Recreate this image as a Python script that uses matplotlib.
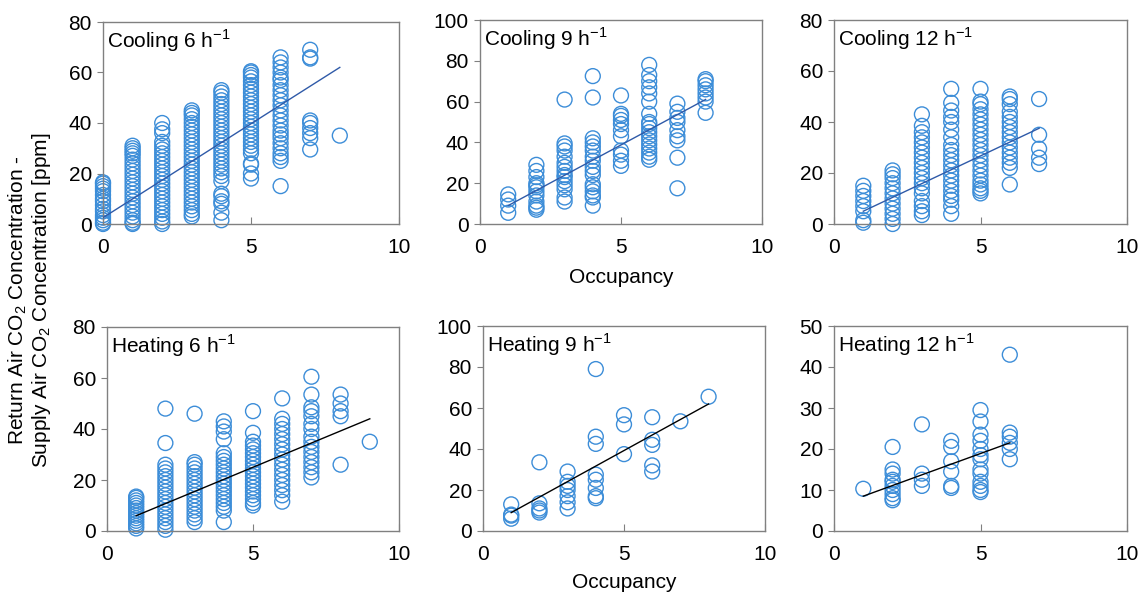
import numpy as np
import matplotlib.pyplot as plt

plt.rcParams['font.family'] = ['Liberation Sans', 'DejaVu Sans']
plt.rcParams['mathtext.fontset'] = 'custom'
plt.rcParams['mathtext.rm'] = 'Liberation Sans'

# occupancy -> list of concentration differences [ppm]
cool6 = {
    0: [0, 0.5, 1.5, 2.5, 3.5, 5, 6, 7.5, 9, 10, 11.5, 13, 14, 15, 16, 16.5],
    1: [0, 0.5, 1.5, 3, 4.5, 6, 7.5, 9, 10.5, 12, 13.5, 15, 16.5, 18, 19.5, 21, 22.5,
        24, 25.5, 27, 28, 29, 30, 31],
    2: [0, 1, 2.5, 4, 5.5, 7, 8.5, 10, 11.5, 13, 14.5, 16, 17.5, 19, 20.5, 22, 23.5,
        25, 26.5, 28, 29.5, 31, 32.5, 36, 37.5, 40],
    3: [3, 4, 5.5, 7, 8.5, 10, 11.5, 13, 14.5, 16, 17.5, 19, 20.5, 22, 23.5, 25, 26.5,
        28, 29.5, 31, 32.5, 34, 35.5, 37, 38.5, 40, 41.5, 43, 44, 45],
    4: [1.5, 4.5, 8, 9, 11, 12, 17, 19, 20.5, 22, 23.5, 25, 26.5, 28, 29.5, 31, 32.5,
        34, 35.5, 37, 38.5, 40, 41.5, 43, 44.5, 46, 47.5, 49, 50.5, 52, 53],
    5: [18, 20, 23.5, 24, 28, 29.5, 31, 32.5, 34, 35.5, 37, 38.5, 40, 41.5, 43, 44.5,
        46, 47.5, 49, 50.5, 52, 53.5, 55, 56.5, 58, 59, 60, 60.5],
    6: [15, 25, 26.5, 28, 30, 32, 34, 35.5, 37, 39, 41, 43, 45, 47, 49, 51, 53, 55,
        57, 58, 60, 62, 64, 66],
    7: [29.5, 34, 36, 38, 40, 41, 65.5, 66, 69],
    8: [35],
}
cool9 = {
    1: [5.5, 9, 12, 14.5],
    2: [7, 8, 9, 11, 14, 16, 18, 19, 20, 23, 26, 29],
    3: [11, 13, 17, 19, 21, 23, 24, 26, 28, 30, 33, 36, 38, 39.5, 61],
    4: [9, 13, 14, 16, 18, 19.5, 24, 26, 28, 31, 33, 36, 38, 40, 42, 62, 72.5],
    5: [28.5, 31, 34, 36, 43, 46, 49, 51, 53, 54, 63],
    6: [31.5, 33, 35, 37, 39, 41, 43, 45, 47, 49, 50, 54, 60, 64, 67, 70, 73, 78],
    7: [17.5, 32.5, 41, 43, 46, 50, 52, 55, 59],
    8: [54.5, 60, 62, 64, 66, 68, 70, 71],
}
cool12 = {
    1: [0.5, 1.5, 5, 7, 9, 11, 13, 15],
    2: [0, 2, 4, 6, 8, 10, 12, 14, 16, 18, 19.5, 21],
    3: [3.5, 5, 7, 9, 12, 14, 16, 18, 20, 22, 24, 26, 28, 30, 32, 34, 36, 38.5, 43],
    4: [4, 7, 9.5, 11, 13, 15, 17, 19, 21, 23, 25, 27, 29, 31, 34, 37, 40, 42, 44.5,
        47.5, 53],
    5: [12, 13, 14, 15.5, 17, 19, 21, 23, 25, 27, 29, 31, 33, 35, 37, 39, 41, 43, 45,
        47, 48, 53],
    6: [15.5, 22, 24, 26, 28, 30, 32, 34, 36, 38, 40, 42, 44, 47, 49, 50],
    7: [23.5, 26, 29.5, 35, 49],
}
heat6 = {
    1: [1, 2, 3, 4, 5, 6, 7, 8, 9, 10, 11, 12, 13, 13.5],
    2: [0.5, 2, 3.5, 5, 6.5, 8, 9.5, 11, 12.5, 14, 15.5, 17, 18.5, 20, 21.5, 23, 24.5,
        26, 34.5, 48],
    3: [3.5, 5, 6.5, 8, 9.5, 11, 12.5, 14, 15.5, 17, 18.5, 20, 21.5, 23, 24.5, 26, 27,
        46],
    4: [3.5, 8, 9.5, 11, 12.5, 14, 15.5, 17, 18.5, 20, 21.5, 23, 24.5, 26, 27.5, 29,
        30.5, 36, 39, 41, 43],
    5: [10, 11, 12.5, 14, 15.5, 17, 18.5, 20, 21.5, 23, 24.5, 26, 27.5, 29, 30.5, 32,
        33.5, 35, 38.5, 47],
    6: [11.5, 14, 16, 18, 20, 22, 24, 26, 28, 30, 32, 34, 36, 38, 40, 42, 44, 52],
    7: [21, 23, 25, 27, 29, 31, 33, 35, 37, 40, 42, 45, 47, 48.5, 53.5, 60.5],
    8: [26, 45, 47, 50, 53.5],
    9: [35],
}
heat9 = {
    1: [6, 7.5, 8, 13],
    2: [9, 10, 11, 13.5, 33.5],
    3: [11, 14, 17, 20, 22, 24, 29],
    4: [16, 17, 21, 25, 27.5, 42.5, 46, 79],
    5: [37.5, 52, 56.5],
    6: [29, 32, 42, 44.5, 55.5],
    7: [53.5],
    8: [65.5],
}
heat12 = {
    1: [10.3],
    2: [7.5, 8, 9, 10, 11, 12, 12.5, 14, 15, 20.5],
    3: [11, 12.5, 14, 26],
    4: [10.5, 11, 14.5, 17, 20.5, 22],
    5: [9.5, 10, 11, 12, 14, 15, 17.5, 18.5, 20, 22, 23.5, 26.7, 29.5],
    6: [17.5, 20, 21.5, 23, 24, 43],
}

titles = ['Cooling 6', 'Cooling 9', 'Cooling 12', 'Heating 6', 'Heating 9', 'Heating 12']
datasets = [cool6, cool9, cool12, heat6, heat9, heat12]
# linear trend lines: (slope, intercept)
trends = [(7.44, 2.5), (7.43, 1.6), (5.42, -0.4), (4.75, 1.25), (7.57, 1.4), (2.6, 5.9)]
ymaxes = [80, 100, 80, 80, 100, 50]
ysteps = [20, 20, 20, 20, 20, 10]

W, H = 1145, 596
fig = plt.figure(figsize=(W / 100, H / 100), dpi=100)

# panel boxes in pixels: left, top, right, bottom
boxes = [(103, 22, 399, 224), (480, 20, 762, 224), (834, 20, 1127, 224),
         (107, 327, 399, 531), (483, 326, 765, 531), (834, 326, 1127, 531)]

marker_col = '#3C8DD8'
frame_col = '#808080'
fs = 15

for i, (name, data) in enumerate(zip(titles, datasets)):
    l, t, r, b = boxes[i]
    ax = fig.add_axes([l / W, 1 - b / H, (r - l) / W, (b - t) / H])
    xs = [k for k, v in data.items() for _ in v]
    ys = [y for v in data.values() for y in v]
    ax.scatter(xs, ys, s=115, facecolors='none', edgecolors=marker_col,
               linewidths=1.0, zorder=2, clip_on=False)
    slope, icpt = trends[i]
    xl = np.array([min(xs), max(xs)])
    line_col = '#2F5AA8' if i < 3 else 'black'
    ax.plot(xl, slope * xl + icpt, color=line_col, lw=1.0, zorder=3)

    ax.set_xlim(0, 10)
    ax.set_ylim(0, ymaxes[i])
    ax.set_xticks([0, 5, 10])
    ax.set_yticks(np.arange(0, ymaxes[i] + 1, ysteps[i]))
    ax.tick_params(axis='x', direction='in', length=5, color=frame_col,
                   labelsize=fs, pad=10)
    ax.tick_params(axis='y', direction='out', length=4, color=frame_col,
                   labelsize=fs, pad=4)
    for sp in ax.spines.values():
        sp.set_color(frame_col)
        sp.set_linewidth(1.0)
    ax.text(0.015, 0.975, name + r' h$^{\mathregular{-1}}$', transform=ax.transAxes,
            ha='left', va='top', fontsize=fs)

fig.text(621 / W, 1 - 278 / H, 'Occupancy', ha='center', va='center', fontsize=fs)
fig.text(624 / W, 1 - 583 / H, 'Occupancy', ha='center', va='center', fontsize=fs)
fig.text(30 / W, 1 - 300 / H,
         'Return Air CO$_\\mathregular{2}$ Concentration -\n'
         'Supply Air CO$_\\mathregular{2}$ Concentration [ppm]',
         ha='center', va='center', rotation=90, fontsize=fs, linespacing=1.05)

fig.savefig('out.png', dpi=100)
